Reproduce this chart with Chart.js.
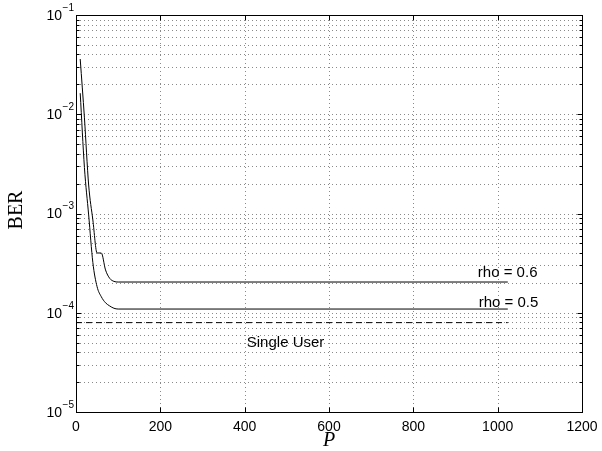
<!DOCTYPE html>
<html>
<head>
<meta charset="utf-8">
<script src="https://cdn.jsdelivr.net/npm/chart.js@4"></script>
<style>
  html, body { margin: 0; padding: 0; background: #fff; }
</style>
</head>
<body>
<canvas id="berChart" width="602" height="451"></canvas>
<script>
// values
const pValues = [10, 20, 30, 40, 50, 60, 70, 80, 90, 100, 1024];
const berRho06 = [3.6e-2, 9.2e-3, 1.94e-3, 8.6e-4, 4.0e-4, 4.0e-4, 2.7e-4, 2.22e-4, 2.07e-4, 2.04e-4, 2.04e-4];
const berRho05 = [1.63e-2, 2.9e-3, 9.7e-4, 3.2e-4, 1.83e-4, 1.45e-4, 1.26e-4, 1.17e-4, 1.11e-4, 1.09e-4, 1.09e-4];
const singleUserP = [0, 1024];
const singleUserBer = [7.95e-5, 7.95e-5];

const xTicks = [0, 200, 400, 600, 800, 1000, 1200];
const yDecades = [1e-5, 1e-4, 1e-3, 1e-2, 1e-1];
const yExponents = ['-5', '-4', '-3', '-2', '-1'];

// text notes, placed in data coordinates
const notes = [
  { text: 'rho = 0.6', p: 953, ber: 2.5e-4 },
  { text: 'rho = 0.5', p: 955, ber: 1.245e-4 },
  { text: 'Single User', p: 405, ber: 4.95e-5 }
];

const toPoints = (xs, ys) => xs.map((x, i) => ({ x: x, y: ys[i] }));

const sans = '"Liberation Sans", Arial, Helvetica, sans-serif';
const serif = '"Liberation Serif", "Times New Roman", serif';

const matlabAxes = {
  id: 'matlabAxes',
  beforeDatasetsDraw(chart) {
    const { ctx, chartArea: a, scales: { x, y } } = chart;
    ctx.save();
    ctx.strokeStyle = '#8a8a8a';
    ctx.lineWidth = 1;
    ctx.setLineDash([1, 3]);
    // vertical grid at x ticks
    xTicks.forEach(v => {
      const px = Math.round(x.getPixelForValue(v)) + 0.5;
      if (px <= a.left + 1 || px >= a.right - 1) return;
      ctx.beginPath();
      ctx.moveTo(px, a.top);
      ctx.lineTo(px, a.bottom);
      ctx.stroke();
    });
    // horizontal grid at every log step
    for (let d = 0; d < yDecades.length - 1; d++) {
      for (let m = 1; m <= 9; m++) {
        const v = yDecades[d] * m;
        const py = Math.round(y.getPixelForValue(v)) + 0.5;
        if (py <= a.top + 1 || py >= a.bottom - 1) continue;
        ctx.beginPath();
        ctx.moveTo(a.left, py);
        ctx.lineTo(a.right, py);
        ctx.stroke();
      }
    }
    ctx.restore();
  },
  afterDatasetsDraw(chart) {
    const { ctx, chartArea: a, scales: { x, y } } = chart;
    ctx.save();
    ctx.setLineDash([]);
    ctx.strokeStyle = '#000';
    ctx.lineWidth = 1;
    const L = Math.round(a.left) + 0.5, R = Math.round(a.right) + 0.5;
    const T = Math.round(a.top) + 0.5, B = Math.round(a.bottom) + 0.5;
    ctx.strokeRect(L, T, R - L, B - T);

    ctx.beginPath();
    // x ticks, inward on bottom and top
    xTicks.forEach(v => {
      const px = Math.round(x.getPixelForValue(v)) + 0.5;
      ctx.moveTo(px, B); ctx.lineTo(px, B - 5);
      ctx.moveTo(px, T); ctx.lineTo(px, T + 5);
    });
    // y ticks, major and minor, inward on left and right
    for (let d = 0; d < yDecades.length; d++) {
      const top = d === yDecades.length - 1 ? 1 : 9;
      for (let m = 1; m <= top; m++) {
        const py = Math.round(y.getPixelForValue(yDecades[d] * m)) + 0.5;
        const len = m === 1 ? 5 : 3;
        ctx.moveTo(L, py); ctx.lineTo(L + len, py);
        ctx.moveTo(R, py); ctx.lineTo(R - len, py);
      }
    }
    ctx.stroke();

    ctx.fillStyle = '#000';
    // x tick labels
    ctx.font = '14px ' + sans;
    ctx.textAlign = 'center';
    ctx.textBaseline = 'middle';
    xTicks.forEach(v => {
      ctx.fillText(String(v), x.getPixelForValue(v), 427);
    });

    // y tick labels as 10 with superscript exponent
    yDecades.forEach((v, i) => {
      const py = y.getPixelForValue(v);
      ctx.font = '10px ' + sans;
      ctx.textAlign = 'right';
      ctx.textBaseline = 'middle';
      const exp = yExponents[i].replace('-', '\u2212');
      ctx.fillText(exp, 74, py - 7);
      const ew = ctx.measureText(exp).width;
      ctx.font = '14px ' + sans;
      ctx.fillText('10', 74 - ew - 0.5, py + 1);
    });

    // axis titles
    ctx.font = 'italic 20px ' + serif;
    ctx.textAlign = 'center';
    ctx.textBaseline = 'middle';
    ctx.fillText('P', (a.left + a.right) / 2, 441);

    ctx.save();
    ctx.translate(17, 210);
    ctx.rotate(-Math.PI / 2);
    ctx.font = '20px ' + serif;
    ctx.fillText('BER', 0, 0);
    ctx.restore();

    // curve notes
    ctx.font = '15px ' + sans;
    ctx.textAlign = 'left';
    ctx.textBaseline = 'middle';
    notes.forEach(n => {
      ctx.fillText(n.text, x.getPixelForValue(n.p), y.getPixelForValue(n.ber));
    });
    ctx.restore();
  }
};

new Chart(document.getElementById('berChart'), {
  type: 'line',
  data: {
    datasets: [
      {
        label: 'rho = 0.6',
        data: toPoints(pValues, berRho06),
        borderColor: '#000',
        borderWidth: 1,
        pointRadius: 0,
        cubicInterpolationMode: 'monotone'
      },
      {
        label: 'rho = 0.5',
        data: toPoints(pValues, berRho05),
        borderColor: '#000',
        borderWidth: 1,
        pointRadius: 0,
        cubicInterpolationMode: 'monotone'
      },
      {
        label: 'Single User',
        data: toPoints(singleUserP, singleUserBer),
        borderColor: '#000',
        borderWidth: 1,
        borderDash: [6, 4],
        pointRadius: 0
      }
    ]
  },
  options: {
    responsive: false,
    animation: false,
    layout: {
      padding: { left: 76, right: 20, top: 15, bottom: 39 }
    },
    plugins: {
      legend: { display: false },
      tooltip: { enabled: false }
    },
    scales: {
      x: {
        type: 'linear',
        display: false,
        min: 0,
        max: 1200
      },
      y: {
        type: 'logarithmic',
        display: false,
        min: 1e-5,
        max: 1e-1
      }
    }
  },
  plugins: [matlabAxes]
});
</script>
</body>
</html>
